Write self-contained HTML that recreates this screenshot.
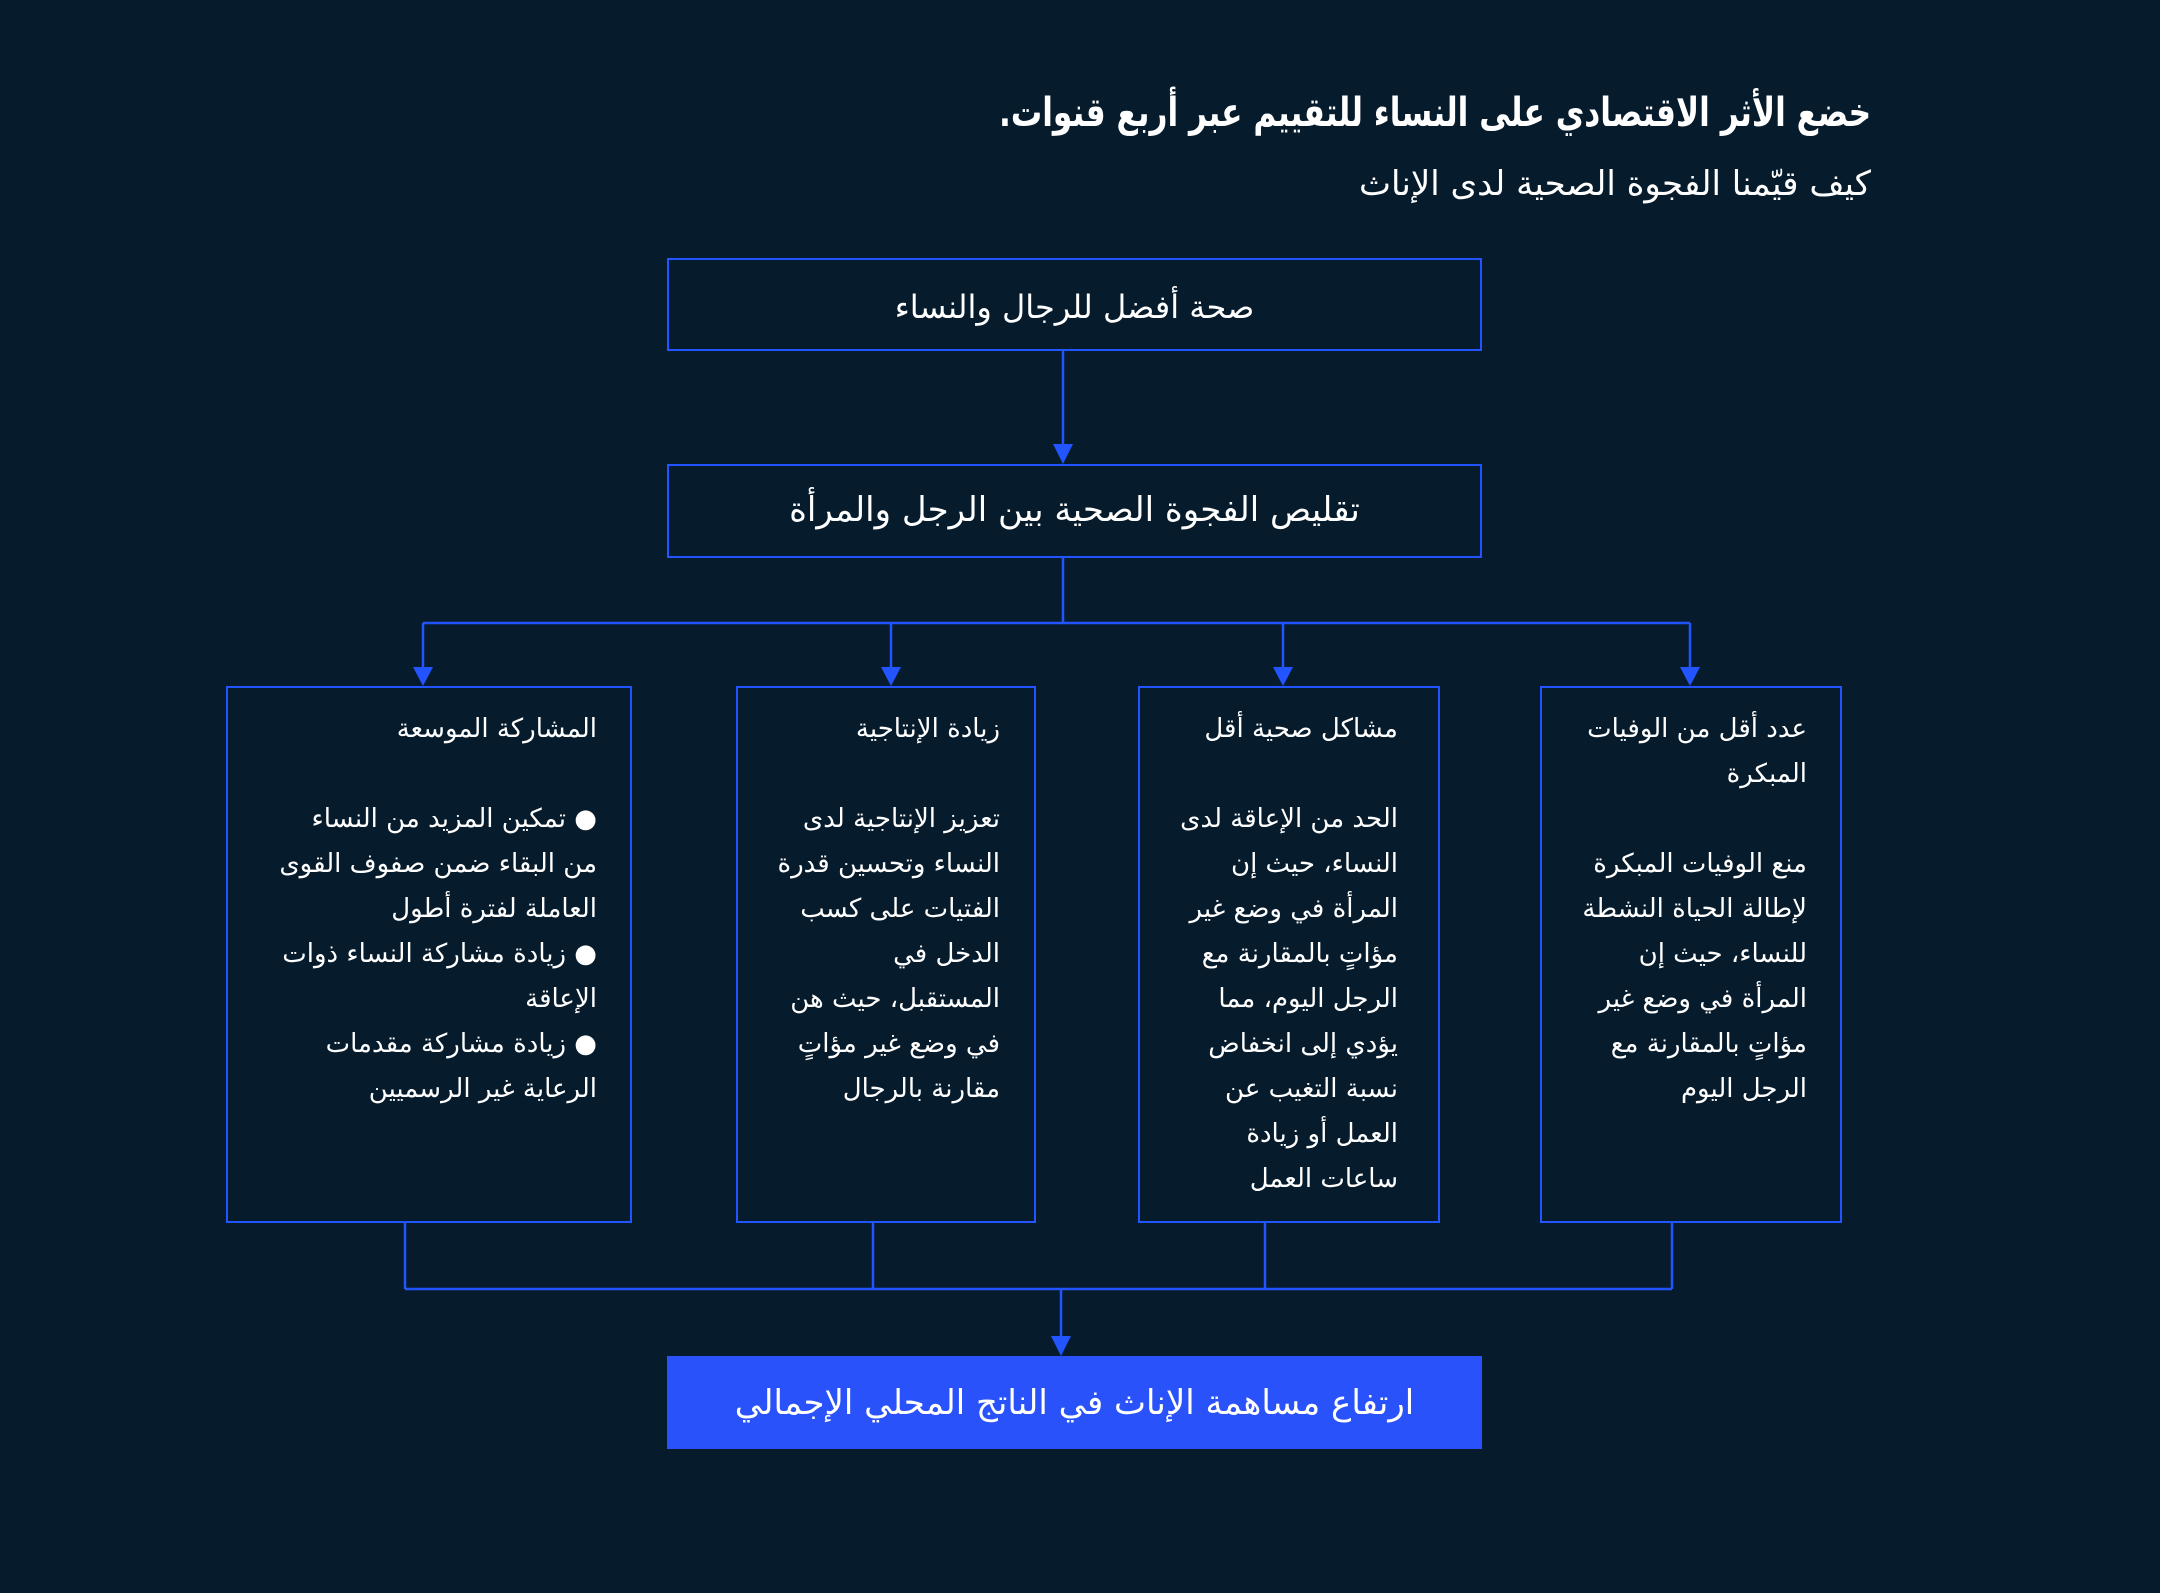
<!DOCTYPE html>
<html><head><meta charset="utf-8"><style>
body{margin:0;width:2160px;height:1593px;background:#061b2c;overflow:hidden;font-family:"DejaVu Sans","Noto Sans CJK SC",sans-serif;color:#fff}
.a{position:absolute;direction:rtl;white-space:nowrap}
.box{position:absolute;border:2px solid #2255ff;box-sizing:border-box}
.t{position:absolute;direction:rtl;text-align:right;white-space:nowrap;font-size:26px;line-height:45px}
</style></head><body>
<svg width="2160" height="1593" style="position:absolute;left:0;top:0">
<g stroke="#2255ff" stroke-width="2.5" fill="none">
<line x1="1063" y1="351" x2="1063" y2="446"/>
<line x1="1063" y1="558" x2="1063" y2="623"/>
<line x1="423" y1="623" x2="1690" y2="623"/>
<line x1="423" y1="623" x2="423" y2="668"/>
<line x1="891" y1="623" x2="891" y2="668"/>
<line x1="1283" y1="623" x2="1283" y2="668"/>
<line x1="1690" y1="623" x2="1690" y2="668"/>
<line x1="405" y1="1223" x2="405" y2="1289"/>
<line x1="873" y1="1223" x2="873" y2="1289"/>
<line x1="1265" y1="1223" x2="1265" y2="1289"/>
<line x1="1672" y1="1223" x2="1672" y2="1289"/>
<line x1="405" y1="1289" x2="1672" y2="1289"/>
<line x1="1061" y1="1289" x2="1061" y2="1338"/>
</g>
<g fill="#2255ff">
<polygon points="1053,444 1073,444 1063,464"/>
<polygon points="413,667 433,667 423,686"/>
<polygon points="881,667 901,667 891,686"/>
<polygon points="1273,667 1293,667 1283,686"/>
<polygon points="1680,667 1700,667 1690,686"/>
<polygon points="1051,1336 1071,1336 1061,1356"/>
</g>
</svg>
<div class="a" style="right:289px;top:90px;font-size:40px;font-weight:bold;transform:scaleX(0.78);transform-origin:right center">خضع الأثر الاقتصادي على النساء للتقييم عبر أربع قنوات.</div>
<div class="a" style="right:289px;top:164px;font-size:34px">كيف قيّمنا الفجوة الصحية لدى الإناث</div>

<div class="box" style="left:667px;top:258px;width:815px;height:93px"></div>
<div class="a" style="left:667px;width:815px;top:288px;text-align:center;font-size:32px">صحة أفضل للرجال والنساء</div>
<div class="box" style="left:667px;top:464px;width:815px;height:94px"></div>
<div class="a" style="left:667px;width:815px;top:490px;text-align:center;font-size:34px">تقليص الفجوة الصحية بين الرجل والمرأة</div>

<div class="box" style="left:226px;top:686px;width:406px;height:537px"></div>
<div class="t" style="right:1563px;top:707px">المشاركة الموسعة<br><br>● تمكين المزيد من النساء<br>من البقاء ضمن صفوف القوى<br>العاملة لفترة أطول<br>● زيادة مشاركة النساء ذوات<br>الإعاقة<br>● زيادة مشاركة مقدمات<br>الرعاية غير الرسميين</div>

<div class="box" style="left:736px;top:686px;width:300px;height:537px"></div>
<div class="t" style="right:1160px;top:707px">زيادة الإنتاجية<br><br>تعزيز الإنتاجية لدى<br>النساء وتحسين قدرة<br>الفتيات على كسب<br>الدخل في<br>المستقبل، حيث هن<br>في وضع غير مؤاتٍ<br>مقارنة بالرجال</div>

<div class="box" style="left:1138px;top:686px;width:302px;height:537px"></div>
<div class="t" style="right:762px;top:707px">مشاكل صحية أقل<br><br>الحد من الإعاقة لدى<br>النساء، حيث إن<br>المرأة في وضع غير<br>مؤاتٍ بالمقارنة مع<br>الرجل اليوم، مما<br>يؤدي إلى انخفاض<br>نسبة التغيب عن<br>العمل أو زيادة<br>ساعات العمل</div>

<div class="box" style="left:1540px;top:686px;width:302px;height:537px"></div>
<div class="t" style="right:353px;top:707px">عدد أقل من الوفيات<br>المبكرة<br><br>منع الوفيات المبكرة<br>لإطالة الحياة النشطة<br>للنساء، حيث إن<br>المرأة في وضع غير<br>مؤاتٍ بالمقارنة مع<br>الرجل اليوم</div>

<div style="position:absolute;left:667px;top:1356px;width:815px;height:93px;background:#2a52fb"></div>
<div class="a" style="left:667px;width:815px;top:1383px;text-align:center;font-size:34px">ارتفاع مساهمة الإناث في الناتج المحلي الإجمالي</div>
</body></html>
